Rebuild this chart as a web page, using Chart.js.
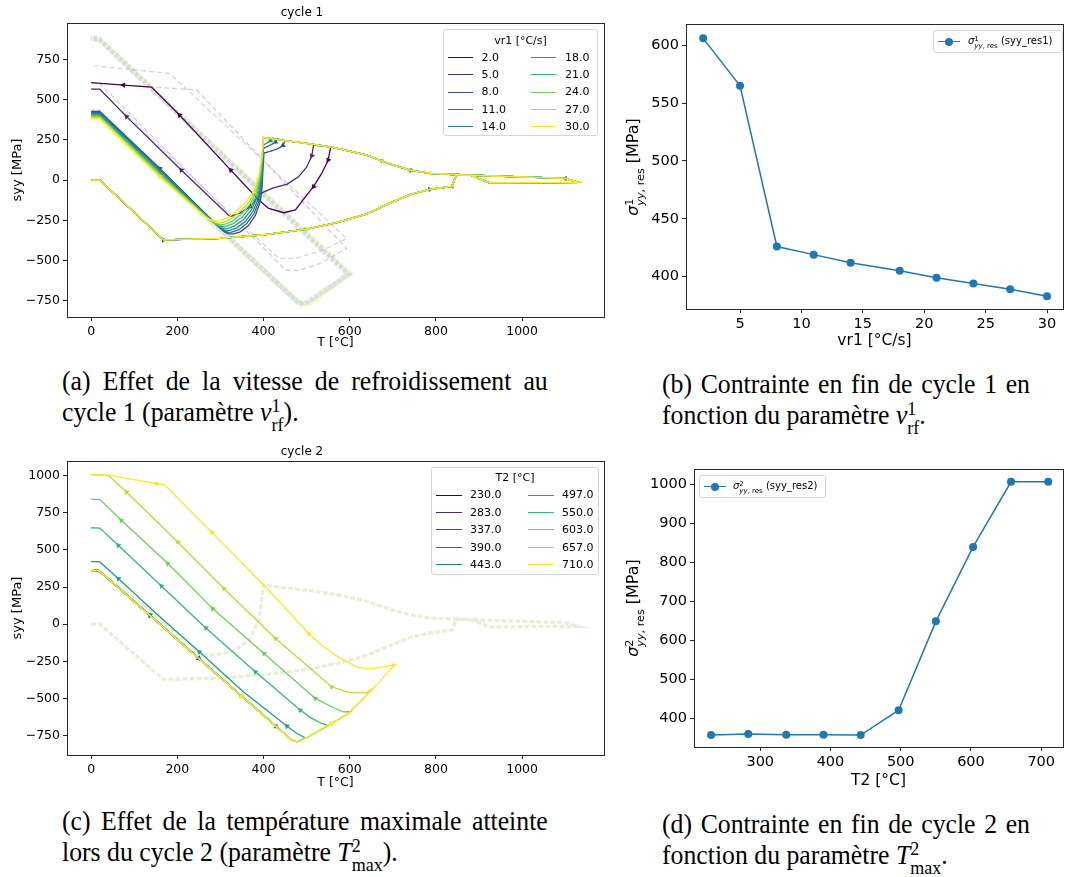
<!DOCTYPE html>
<html>
<head>
<meta charset="utf-8">
<script src="https://cdn.jsdelivr.net/npm/chart.js@4.4.1/dist/chart.umd.min.js"></script>
<style>
body{margin:0;width:1067px;height:877px;background:#fff;position:relative;overflow:hidden;font-family:"DejaVu Sans",sans-serif;color:#000}
canvas{position:absolute}
.leg{position:absolute;background:rgba(255,255,255,0.85);border:1px solid #d6d6d6;border-radius:3px;box-sizing:border-box;font-size:11px}
.leg .it{position:absolute;white-space:nowrap;line-height:12px}
.leg .ln{position:absolute;height:0;border-top:1.5px solid}
.leg.small{font-size:10px}
.ylab{position:absolute;white-space:nowrap;font-size:16px;transform:translate(-50%,-50%) rotate(-90deg)}
.ss{display:inline-flex;flex-direction:column;font-size:0.7em;line-height:0.95;vertical-align:0.42em;text-align:left}
.cap{position:absolute;font-family:"Liberation Serif","Tinos","Times New Roman",serif;font-size:28px;line-height:30.5px;transform:scaleX(0.92);transform-origin:0 0}
.cap .l1{display:block;text-align:justify;text-align-last:justify}
.cap .l2{display:block}
</style>
</head>
<body>
<canvas id="ca" width="610" height="350" style="left:0;top:0"></canvas>
<canvas id="cb" width="457" height="350" style="left:610px;top:0"></canvas>
<canvas id="cc" width="610" height="350" style="left:0;top:440px"></canvas>
<canvas id="cd" width="457" height="350" style="left:610px;top:440px"></canvas>

<div id="legA" class="leg" style="left:443px;top:29px;width:155px;height:107px"></div>
<div id="legC" class="leg" style="left:431px;top:467px;width:168px;height:108px"></div>

<div class="leg small" style="left:933px;top:30px;width:130px;height:23px">
  <div class="ln" style="left:4px;top:10px;width:22px;border-color:#1f77b4"></div>
  <div style="position:absolute;left:11px;top:7px;width:8px;height:8px;border-radius:50%;background:#1f77b4"></div>
  <div class="it" style="left:34px;top:4px"><i>σ</i><span class="ss"><span>1</span><span><i>yy</i>, res</span></span> (syy_res1)</div>
</div>
<div class="leg small" style="left:699px;top:475px;width:127px;height:23px">
  <div class="ln" style="left:4px;top:10px;width:22px;border-color:#1f77b4"></div>
  <div style="position:absolute;left:11px;top:7px;width:8px;height:8px;border-radius:50%;background:#1f77b4"></div>
  <div class="it" style="left:33px;top:4px"><i>σ</i><span class="ss"><span>2</span><span><i>yy</i>, res</span></span> (syy_res2)</div>
</div>

<div class="ylab" style="left:635px;top:167px"><i>σ</i><span class="ss"><span>1</span><span><i>yy</i>, res</span></span> [MPa]</div>
<div class="ylab" style="left:635px;top:608px"><i>σ</i><span class="ss"><span>2</span><span><i>yy</i>, res</span></span> [MPa]</div>

<div class="cap" style="left:62px;top:366px;width:528px">
  <span class="l1">(a) Effet de la vitesse de refroidissement au</span>
  <span class="l2">cycle 1 (paramètre <i>v</i><span class="ss"><span>1</span><span>rf</span></span>).</span>
</div>
<div class="cap" style="left:662px;top:369px;width:400px">
  <span class="l1">(b) Contrainte en fin de cycle 1 en</span>
  <span class="l2">fonction du paramètre <i>v</i><span class="ss"><span>1</span><span>rf</span></span>.</span>
</div>
<div class="cap" style="left:62px;top:806px;width:528px">
  <span class="l1">(c) Effet de la température maximale atteinte</span>
  <span class="l2">lors du cycle 2 (paramètre <i>T</i><span class="ss"><span>2</span><span>max</span></span>).</span>
</div>
<div class="cap" style="left:662px;top:809px;width:400px">
  <span class="l1">(d) Contrainte en fin de cycle 2 en</span>
  <span class="l2">fonction du paramètre <i>T</i><span class="ss"><span>2</span><span>max</span></span>.</span>
</div>

<script>
// parameters and end-of-cycle stresses
var vr1 = [2, 5, 8, 11, 14, 18, 21, 24, 27, 30];
var syyRes1 = [606, 565, 426, 419, 412, 405, 399, 394, 389, 383];
var T2 = [230, 283, 337, 390, 443, 497, 550, 603, 657, 710];
var syyRes2 = [357, 360, 358, 358, 357, 421, 649, 840, 1007, 1007];

var viridis = ['#440154', '#482878', '#3e4989', '#31688e', '#26828e', '#1f9e89', '#35b779', '#6ece58', '#b5de2b', '#fde725'];

var xTicksT = [0, 200, 400, 600, 800, 1000];
var yTicksA = [-750, -500, -250, 0, 250, 500, 750];
var yTicksC = [-750, -500, -250, 0, 250, 500, 750, 1000];
var xTicksB = [5, 10, 15, 20, 25, 30];
var yTicksB = [400, 450, 500, 550, 600];
var xTicksD = [300, 400, 500, 600, 700];
var yTicksD = [400, 500, 600, 700, 800, 900, 1000];

// cycle 1 : [T, syy] paths
var heat1 = [[0,0],[20,0],[168,-372],[300,-362],[400,-340],[500,-305],[570,-265],[640,-210],[692,-145],[740,-90],[786,-58],[837,-40],[848,35],[880,31],[924,-17],[1130,-15]];
var cool1 = [[1130,-15],[1100,10],[850,33],[800,40],[786,42],[740,62],[700,95],[673,120],[640,155],[600,180],[558,205],[500,228],[450,245],[400,265]];
var dep1 = [556, 516, 449, 431, 420, 400, 400, 400, 400, 400];
var tail1 = [
  [[556,207],[550,124],[535,41],[516,-41],[497,-104],[474,-186],[447,-203],[412,-176],[389,-124],[324,62],[205,404],[140,578],[75,590],[0,606]],
  [[516,217],[512,150],[500,80],[481,20],[455,-25],[421,-50],[400,-75],[385,-110],[370,-165],[345,-205],[322,-227],[209,62],[82,394],[20,565],[0,565]],
  [[449,238],[445,215],[432,193],[415,178],[401,168],[399,80],[397,-30],[393,-130],[381,-220],[365,-283],[346,-322],[330,-334],[318,-335],[308,-320],[292,-280],[159,73],[20,426],[0,426]],
  [[431,255],[428,237],[418,220],[406,205],[400,199],[398,90],[396,-20],[391,-120],[378,-208],[361,-270],[342,-310],[326,-324],[316,-325],[305,-310],[288,-270],[159,68],[20,419],[0,419]],
  [[420,262],[416,245],[408,230],[400,218],[398,100],[395,-10],[389,-110],[375,-196],[358,-258],[338,-297],[322,-313],[313,-315],[301,-300],[284,-262],[159,62],[20,412],[0,412]],
  [[400,265],[398,110],[394,0],[387,-100],[372,-184],[354,-245],[334,-283],[318,-300],[308,-302],[296,-288],[279,-252],[159,54],[20,405],[0,405]],
  [[400,265],[397,120],[393,10],[385,-90],[369,-172],[350,-232],[330,-270],[313,-288],[304,-290],[291,-276],[274,-243],[159,46],[20,399],[0,399]],
  [[400,265],[397,130],[392,20],[383,-80],[366,-160],[346,-218],[326,-258],[309,-276],[298,-279],[285,-266],[270,-236],[159,38],[20,394],[0,394]],
  [[400,265],[396,140],[391,30],[381,-70],[363,-148],[342,-205],[322,-245],[305,-264],[293,-267],[280,-255],[266,-228],[159,30],[20,389],[0,389]],
  [[400,265],[396,150],[390,40],[379,-60],[360,-135],[338,-190],[318,-232],[300,-252],[288,-255],[275,-245],[262,-220],[159,21],[20,383],[0,383]]
];
// arrow markers (path vertices) for fig (a)
var arrowsA = [
  [[75,590],[205,404],[324,62],[516,-41],[550,124]],
  [[82,394],[209,62],[512,150],[370,-165]],
  [[445,215],[159,73],[168,-372]],
  [[428,237],[786,-58]],
  [[416,245],[1100,10]],
  [[740,62]], [[837,-40]], [[673,120]], [[500,-305]], [[159,21],[786,42]]
];
// faded cycle 2 traces shown behind fig (a)
var band1 = [
  [[0,426],[20,426],[300,-305],[482,-768],[500,-760],[597,-588],[20,872],[0,878]],
  [[0,405],[20,405],[300,-315],[486,-772],[505,-762],[599,-582],[18,878],[0,882]],
  [[0,383],[20,383],[300,-322],[490,-776],[510,-764],[600,-578],[15,884],[0,886]]
];
var bandCol1 = ['rgba(150,180,210,0.3)', 'rgba(175,210,195,0.25)', 'rgba(245,240,130,0.4)'];
var dash1 = [
  [[0,606],[20,600],[451,-559],[480,-563],[530,-520],[593,-425],[245,560],[140,578]],
  [[0,565],[20,560],[435,-487],[470,-487],[530,-445],[593,-363],[182,663],[0,712]]
];

// cycle 2 : [T, syy] paths
var heat2 = [[0,357],[17,363],[136,60],[250,-231],[350,-486],[430,-690],[466,-780],[478,-791],[504,-757],[558,-668],[597,-600],[643,-466],[673,-376],[702,-276]];
var tail2 = [
  [[230,-180],[136,62],[17,362],[0,357]],
  [[283,-315],[136,62],[17,363],[0,360]],
  [[337,-453],[136,62],[17,363],[0,358]],
  [[390,-588],[136,62],[17,363],[0,358]],
  [[443,-720],[136,62],[17,362],[0,357]],
  [[497,-765],[475,-730],[454,-685],[351,-450],[251,-186],[151,72],[63,307],[20,419],[0,421]],
  [[550,-682],[535,-668],[510,-630],[485,-578],[381,-320],[266,-25],[163,257],[63,531],[20,647],[0,649]],
  [[603,-588],[585,-590],[566,-567],[520,-499],[401,-197],[282,105],[178,408],[70,699],[20,840],[0,840]],
  [[657,-424],[640,-462],[615,-462],[597,-458],[558,-421],[500,-276],[428,-96],[308,240],[201,553],[82,889],[40,1002],[0,1007]],
  [[706,-272],[673,-291],[643,-302],[615,-285],[596,-255],[566,-208],[530,-130],[505,-63],[400,265],[280,618],[170,939],[151,946],[43,1003],[0,1007]]
];
var arrowsC = [
  [[136,62]], [[250,-231]], [[136,62],[250,-231]], [[350,-486]], [[430,-690],[136,62]],
  [[454,-685],[251,-186],[63,307]],
  [[485,-578],[381,-320],[266,-25],[163,257],[63,531]],
  [[520,-499],[401,-197],[282,105],[178,408],[70,699]],
  [[558,-421],[428,-96],[308,240],[201,553],[82,889]],
  [[702,-276],[558,-668],[505,-63],[280,618],[151,946],[350,-486]]
];
// faded cycle 1 trace behind fig (c)
var fadeTail2 = [[400,265],[395,150],[389,27],[366,-108],[328,-186],[290,-205],[266,-208],[251,-190],[136,95],[17,357],[0,357]];

function pts(a) {
  return a.map(function(p) { return {x: p[0], y: p[1]}; });
}
function minus(v) {
  return String(v).replace('-', '\u2212');
}
function setTicks(list) {
  return function(s) { s.ticks = list.map(function(v) { return {value: v}; }); };
}
function fixW(w) { return function(s) { s.width = w; }; }
function fixH(h) { return function(s) { s.height = h; }; }

function marked(c) {
  var m = c.dataset.marks || [], r = c.raw;
  if (!r) return false;
  for (var k = 0; k < m.length; k++) if (m[k][0] === r.x && m[k][1] === r.y) return true;
  return false;
}
function arrowRot(c) {
  var d = c.dataset.data, i = c.dataIndex;
  var a = d[i], b = d[i + 1];
  if (!b) { b = a; a = d[i - 1]; }
  var sx = c.chart.scales.x, sy = c.chart.scales.y;
  var dx = sx.getPixelForValue(b.x) - sx.getPixelForValue(a.x);
  var dy = sy.getPixelForValue(b.y) - sy.getPixelForValue(a.y);
  return Math.atan2(dy, dx) * 180 / Math.PI + 90;
}

var frame = {
  id: 'frame',
  afterDraw: function(c) {
    var a = c.chartArea, ctx = c.ctx;
    ctx.save();
    ctx.strokeStyle = '#262626';
    ctx.lineWidth = 1;
    ctx.strokeRect(Math.round(a.left) + 0.5, Math.round(a.top) + 0.5, Math.round(a.right - a.left), Math.round(a.bottom - a.top));
    ctx.restore();
  }
};

function axis(min, max, ticks, size, fit, title, tsize, tpad) {
  return {
    type: 'linear', min: min, max: max,
    afterBuildTicks: setTicks(ticks),
    afterFit: fit,
    grid: {drawOnChartArea: false, drawTicks: true, tickLength: 4, color: '#262626'},
    border: {display: true, color: '#262626'},
    ticks: {color: '#000', padding: 3, font: {family: 'DejaVu Sans', size: size}, callback: minus, maxRotation: 0, autoSkip: false},
    title: {display: true, text: title, color: '#000', font: {family: 'DejaVu Sans', size: tsize}, padding: tpad}
  };
}

function cycleOpts(title, titlePad, xMin, xMax, yMin, yMax, yTicks, xh) {
  return {
    responsive: false, animation: false, devicePixelRatio: 1,
    layout: {padding: {top: 0, right: 6, left: 0, bottom: 0}},
    plugins: {
      legend: {display: false}, tooltip: {enabled: false},
      title: {display: true, text: title, color: '#000', font: {family: 'DejaVu Sans', size: 12, weight: 'normal'}, padding: titlePad}
    },
    scales: {
      x: axis(xMin, xMax, xTicksT, 12.5, fixH(xh), 'T [°C]', 12.5, {top: 0, bottom: 0}),
      y: axis(yMin, yMax, yTicks, 12.5, fixW(67), 'syy [MPa]', 13, {top: 10, bottom: 0})
    }
  };
}

function line(data, color, width, order, dash, marks) {
  return {data: pts(data), showLine: true, borderColor: color, backgroundColor: color, borderWidth: width,
          order: order, borderDash: dash || [], tension: 0, marks: marks || [],
          pointStyle: 'triangle', pointBorderWidth: 0,
          pointRadius: function(c) { return marked(c) ? 3.2 : 0; },
          pointRotation: function(c) { return marked(c) ? arrowRot(c) : 0; }};
}

// ---- fig (a)
var dsA = [];
band1.forEach(function(b, i) { dsA.push(line(b, bandCol1[i], 5, 200 + i, [4, 1.5])); });
dsA.push(line(dash1[0], 'rgba(110,80,150,0.3)', 1.3, 150, [5, 3]));
dsA.push(line(dash1[1], 'rgba(120,90,160,0.28)', 1.3, 151, [5, 3]));
vr1.forEach(function(v, i) {
  var upper = cool1.filter(function(p) { return p[0] > dep1[i]; });
  dsA.push(line(heat1.concat(upper, tail1[i]), viridis[i], 1.3, 50 - i, null, arrowsA[i]));
});
new Chart('ca', {type: 'scatter', data: {datasets: dsA}, plugins: [frame],
  options: cycleOpts('cycle 1', {top: 6, bottom: 2.6}, -56, 1190, -851, 976, yTicksA, 33)});

// ---- fig (c)
var dsC = [];
var fade2 = heat1.concat(cool1, fadeTail2);
dsC.push(line(fade2, 'rgba(150,180,210,0.18)', 3.5, 201, [5, 2]));
dsC.push(line(fade2, 'rgba(225,235,140,0.35)', 2.5, 200, [5, 2]));
T2.forEach(function(t, i) {
  var up = heat2.filter(function(p) { return p[0] < t; });
  dsC.push(line(up.concat(tail2[i]), viridis[i], 1.3, 50 - i, null, arrowsC[i]));
});
new Chart('cc', {type: 'scatter', data: {datasets: dsC}, plugins: [frame],
  options: cycleOpts('cycle 2', {top: 5, bottom: 1.6}, -56, 1190, -880, 1098, yTicksC, 35)});

// ---- figs (b) and (d)
function resOpts(xMin, xMax, xTicks, yMin, yMax, yTicks, top, yw, xh, xTitle) {
  var y = axis(yMin, yMax, yTicks, 14.5, fixW(yw), '', 15, {top: 0, bottom: 0});
  y.title.display = false;
  return {
    responsive: false, animation: false, devicePixelRatio: 1,
    layout: {padding: {top: top, right: 1, left: 0, bottom: 0}},
    plugins: {legend: {display: false}, tooltip: {enabled: false}},
    scales: {
      x: axis(xMin, xMax, xTicks, 14.5, fixH(xh), xTitle, 15.5, {top: 0, bottom: 0}),
      y: y
    }
  };
}
function resSet(xs, ys) {
  return [{data: xs.map(function(v, i) { return {x: v, y: ys[i]}; }), showLine: true,
           borderColor: '#1f77b4', backgroundColor: '#1f77b4', borderWidth: 1.5,
           pointRadius: 4, pointHoverRadius: 4, pointBorderWidth: 0}];
}
new Chart('cb', {type: 'scatter', data: {datasets: resSet(vr1, syyRes1)}, plugins: [frame],
  options: resOpts(0.6, 31.3, xTicksB, 372, 618.4, yTicksB, 24, 76, 41, 'vr1 [°C/s]')});
new Chart('cd', {type: 'scatter', data: {datasets: resSet(T2, syyRes2)}, plugins: [frame],
  options: resOpts(205.7, 731, xTicksD, 326.5, 1040, yTicksD, 29, 84, 43, 'T2 [°C]')});

// ---- legends of (a) and (c)
function buildLegend(id, title, labels, g) {
  var el = document.getElementById(id);
  var h = '<div class="it" style="left:0;width:100%;text-align:center;top:' + (g.titleY - 6) + 'px">' + title + '</div>';
  labels.forEach(function(lab, i) {
    var col = Math.floor(i / 5), row = i % 5;
    var y = g.rowY + row * g.step;
    h += '<div class="ln" style="left:' + g.lineX[col] + 'px;width:' + g.lineW + 'px;top:' + (y - 0.75) + 'px;border-color:' + viridis[i] + '"></div>';
    h += '<div class="it" style="left:' + g.textX[col] + 'px;top:' + (y - 6) + 'px">' + lab.toFixed(1) + '</div>';
  });
  el.innerHTML = h;
}
buildLegend('legA', 'vr1 [°C/s]', vr1, {titleY: 10.5, rowY: 27.7, step: 17.3, lineX: [3.5, 87], lineW: 25, textX: [37.5, 121]});
buildLegend('legC', 'T2 [°C]', T2, {titleY: 9.7, rowY: 27.3, step: 17.4, lineX: [4, 96], lineW: 26, textX: [38, 130]});
</script>
</body>
</html>
